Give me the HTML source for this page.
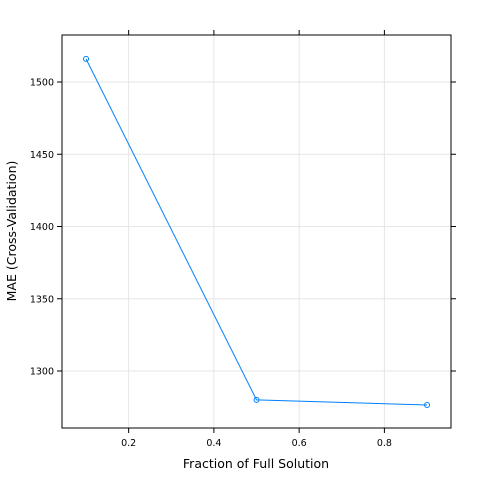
<!DOCTYPE html>
<html><head><meta charset="utf-8"><style>
html,body{margin:0;padding:0;background:#fff;}
svg{display:block;font-family:"DejaVu Sans","Liberation Sans",sans-serif;}
</style></head><body>
<svg id="chart" width="480" height="480" viewBox="0 0 480 480">
<g id="grid"></g>
<g id="axes"></g>
<g id="series"></g>
<text x="256" y="468" font-size="12.5" text-anchor="middle">Fraction of Full Solution</text>
<text transform="translate(16,231) rotate(-90)" font-size="12.5" text-anchor="middle">MAE (Cross-Validation)</text>
</svg>
<script>
const fractions = [0.1, 0.5, 0.9];
const maeValues = [1516, 1280, 1276.5];
const xTicks = [0.2, 0.4, 0.6, 0.8];
const yTicks = [1300, 1350, 1400, 1450, 1500];

const L=62,R=451,T=35,B=428;
function sx(v){return 43.4 + v*426.25;}
function sy(v){return 82 + (1500 - v)*1.445;}
const NS="http://www.w3.org/2000/svg";
function mk(tag,attrs,parent){const e=document.createElementNS(NS,tag);for(const k in attrs)e.setAttribute(k,attrs[k]);parent.appendChild(e);return e;}
const grid=document.getElementById('grid'),axes=document.getElementById('axes'),series=document.getElementById('series');

xTicks.forEach(t=>{
  const x=sx(t);
  const g=mk('line',{x1:x,x2:x,y1:T,y2:B,stroke:'#e6e6e6','stroke-width':1},grid);
  
  
  const tb=mk('line',{x1:x,x2:x,y1:B,y2:B+5,stroke:'#000'},axes);
  
  
  const tt=mk('line',{x1:x,x2:x,y1:T,y2:T-5,stroke:'#000'},axes);
  
  
  const lb=mk('text',{x:x,y:B+18,'font-size':9.5,'text-anchor':'middle'},axes);
  lb.textContent=String(t);
  
  
});
yTicks.forEach(t=>{
  const y=sy(t);
  const g=mk('line',{x1:L,x2:R,y1:y,y2:y,stroke:'#e6e6e6','stroke-width':1},grid);
  
  
  const tl=mk('line',{x1:L,x2:L-5,y1:y,y2:y,stroke:'#000'},axes);
  
  
  const tr=mk('line',{x1:R,x2:R+5,y1:y,y2:y,stroke:'#000'},axes);
  
  
  const lb=mk('text',{x:L-8,y:y+3.5,'font-size':9.5,'text-anchor':'end'},axes);
  lb.textContent=String(t);
  
  
});
const box=mk('rect',{x:L,y:T,width:R-L,height:B-T,fill:'none',stroke:'#000','stroke-width':1},axes);



const pts=fractions.map((f,i)=>sx(f)+','+sy(maeValues[i])).join(' ');
const line=mk('polyline',{points:pts,fill:'none',stroke:'#0080ff','stroke-width':1},series);


fractions.forEach((f,i)=>{
  const c=mk('circle',{cx:sx(f),cy:sy(maeValues[i]),r:2.5,fill:'none',stroke:'#0080ff','stroke-width':1},series);
  
  
});
</script>
</body></html>
